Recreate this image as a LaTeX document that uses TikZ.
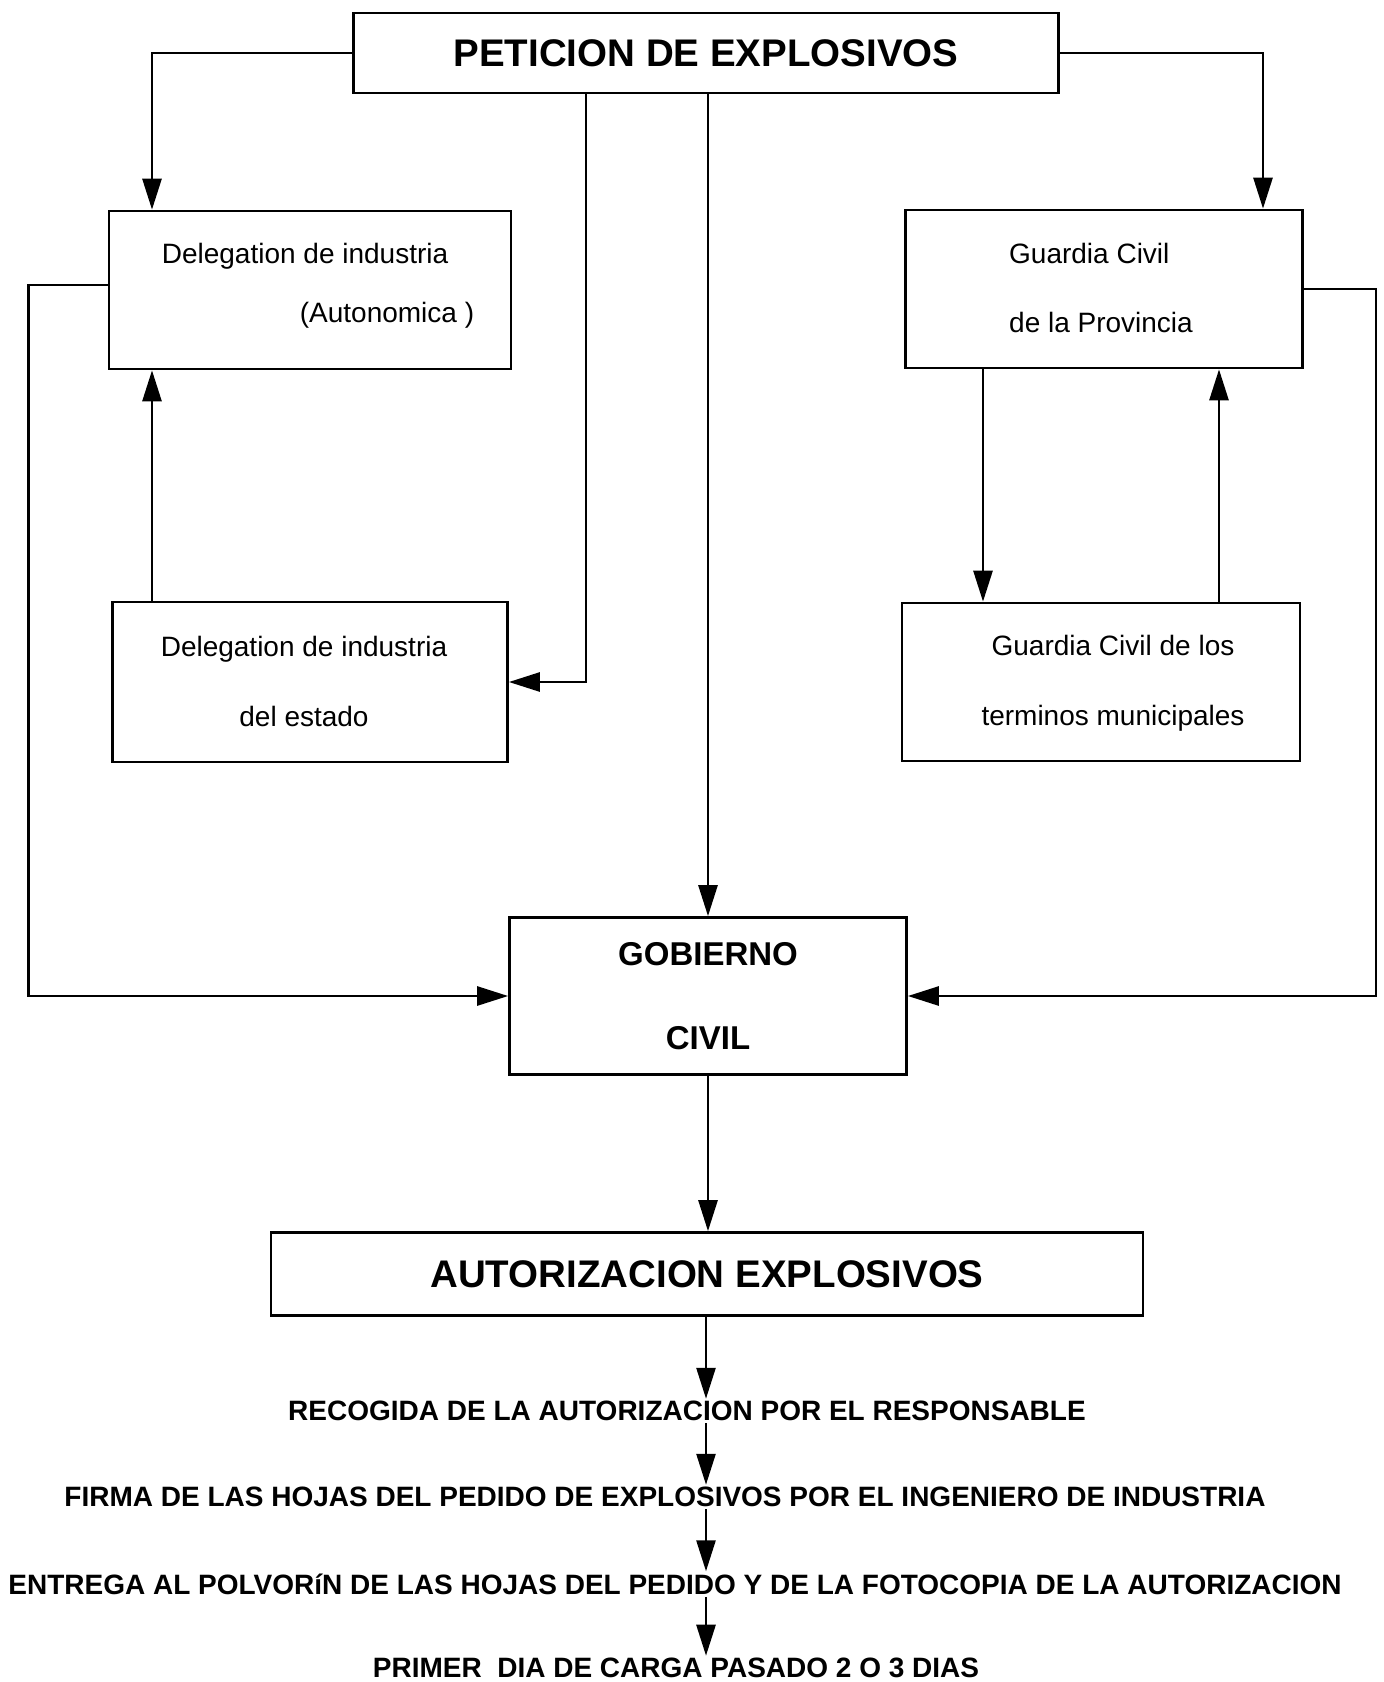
\documentclass[tikz,border=0pt]{standalone}
\usepackage{fontspec}
\setmainfont{Liberation Sans}
\usetikzlibrary{arrows.meta}

\begin{document}
\begin{tikzpicture}[x=1pt,y=-1pt,line width=2.7pt,
        box/.style={draw,rectangle,inner sep=0pt,align=center},
        arr/.style={-{Triangle[length=31pt,width=19pt]}},
        txt/.style={font=\fontsize{28}{70}\selectfont},
        big/.style={font=\fontsize{38.5}{47}\selectfont\bfseries},
        paso/.style={inner sep=1pt,font=\fontsize{28}{34}\selectfont\bfseries}]
        \useasboundingbox (0,0) rectangle (1384,1682);
        \node[box,big,minimum width=705pt,minimum height=80pt] (peticion) at (706,53) {PETICION DE EXPLOSIVOS};
        \node[box,minimum width=402pt,minimum height=158pt] (autonom) at (310,290) {};
        \node[txt,align=left] (autonomT) at (318,286) {Delegation de industria\\[-11pt]\hspace*{138pt}(Autonomica )};
        \node[box,minimum width=395pt,minimum height=160pt] (estado) at (310,682) {};
        \node[txt,align=center] (estadoT) at (304,681) {Delegation de industria\\del estado};
        \node[box,minimum width=397pt,minimum height=158pt] (provincia) at (1104,289) {};
        \node[txt,align=left,font=\fontsize{28}{69}\selectfont] (provinciaT) at (1101,288) {Guardia Civil\\de la Provincia};
        \node[box,minimum width=398pt,minimum height=158pt] (municip) at (1101,682) {};
        \node[txt,align=center] (municipT) at (1113,683) {Guardia Civil de los\\terminos municipales};
        \node[box,minimum width=397pt,minimum height=157pt,font=\fontsize{33}{84}\selectfont\bfseries] (gobierno) at (708,996) {GOBIERNO\\CIVIL};
        \node[box,big,minimum width=872pt,minimum height=83pt] (autoriz) at (707,1274) {AUTORIZACION EXPLOSIVOS};
        \node[paso] (recogida) at (687,1411) {RECOGIDA DE LA AUTORIZACION POR EL RESPONSABLE};
        \node[paso] (firma) at (665,1497) {FIRMA DE LAS HOJAS DEL PEDIDO DE EXPLOSIVOS POR EL INGENIERO DE INDUSTRIA};
        \node[paso] (entrega) at (675,1584) {ENTREGA AL POLVOR\'{\i}N DE LAS HOJAS DEL PEDIDO Y DE LA FOTOCOPIA DE LA AUTORIZACION};
        \node[paso] (primer) at (676,1668) {PRIMER\ \ DIA DE CARGA PASADO 2 O 3 DIAS};
        \coordinate (colL) at (152,0);
        \coordinate (colR) at (1263,0);
        \coordinate (colA) at (983,0);
        \coordinate (colB) at (1219,0);
        \coordinate (colM) at (586,0);
        \coordinate (eje) at (706,0);
        \draw[arr] (peticion.west) -| (autonom.north -| colL);
        \draw[arr] (peticion.east) -| (provincia.north -| colR);
        \draw[arr] (peticion.south -| colM) |- (estado.east);
        \draw[arr] (peticion.south -| gobierno.north) -- (gobierno.north);
        \draw[arr] (estado.north -| colL) -- (autonom.south -| colL);
        \draw[arr] ([yshift=5pt]autonom.west) -- ++(-79,0) |- (gobierno.west);
        \draw[arr] (provincia.east) -- ++(72,0) |- (gobierno.east);
        \draw[arr] (provincia.south -| colA) -- (municip.north -| colA);
        \draw[arr] (municip.north -| colB) -- (provincia.south -| colB);
        \draw[arr] (gobierno.south) -- (autoriz.north -| gobierno.south);
        \draw[arr] (autoriz.south -| eje) -- (recogida.north -| eje);
        \draw[arr] (recogida.south -| eje) -- (firma.north -| eje);
        \draw[arr] (firma.south -| eje) -- (entrega.north -| eje);
        \draw[arr] (entrega.south -| eje) -- (primer.north -| eje);
    \end{tikzpicture}
\end{document}
